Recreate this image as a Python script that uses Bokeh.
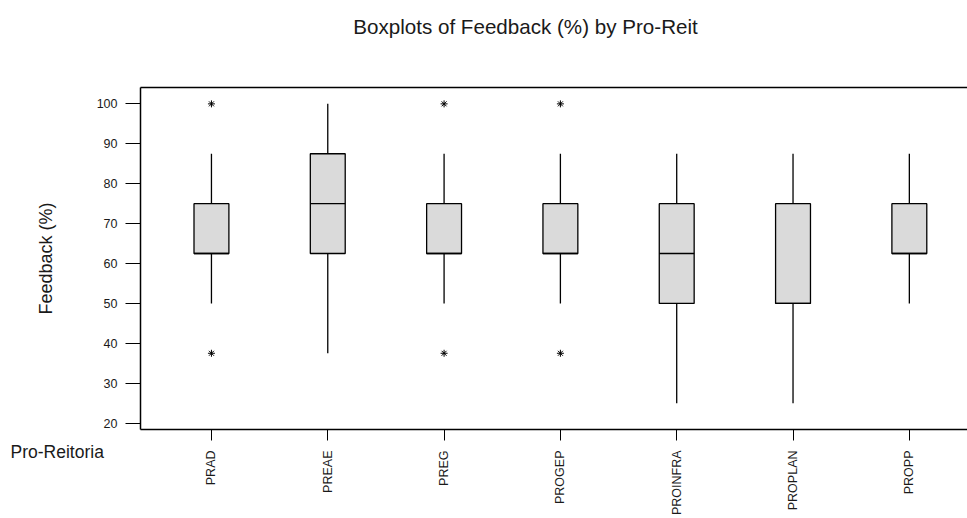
import numpy as np
from bokeh.plotting import figure
from bokeh.models import Range1d, FixedTicker, LinearAxis, Label, ColumnDataSource
from bokeh.embed import file_html
from bokeh.resources import INLINE

# ---- data ----
categories = ["PRAD", "PREAE", "PREG", "PROGEP", "PROINFRA", "PROPLAN", "PROPP"]
q1 = [62.5, 62.5, 62.5, 62.5, 50.0, 50.0, 62.5]
median = [62.5, 75.0, 62.5, 62.5, 62.5, 50.0, 62.5]
q3 = [75.0, 87.5, 75.0, 75.0, 75.0, 75.0, 75.0]
whisker_low = [50.0, 37.5, 50.0, 50.0, 25.0, 25.0, 50.0]
whisker_high = [87.5, 100.0, 87.5, 87.5, 87.5, 87.5, 87.5]
outlier_cat = ["PRAD", "PRAD", "PREG", "PREG", "PROGEP", "PROGEP"]
outlier_val = [100.0, 37.5, 100.0, 37.5, 100.0, 37.5]
y_ticks = [20, 30, 40, 50, 60, 70, 80, 90, 100]

title_text = "Boxplots of Feedback (%) by Pro-Reit"
y_label = "Feedback (%)"
x_label = "Pro-Reitoria"

FONT = "Liberation Sans"
TXT = "#1a1a1a"
BOX_W = 0.3

idx = np.arange(len(categories))
src = ColumnDataSource(dict(
    x=idx, q1=q1, med=median, q3=q3, lo=whisker_low, hi=whisker_high,
    mx0=idx - BOX_W / 2, mx1=idx + BOX_W / 2,
))
out_src = ColumnDataSource(dict(
    x=[categories.index(c) for c in outlier_cat], y=outlier_val,
))

p = figure(width=967, height=518, output_backend="svg", toolbar_location=None,
           x_range=Range1d(-0.61, 6.5), y_range=Range1d(18.4, 104.1),
           min_border_left=140, min_border_right=0, min_border_top=87,
           min_border_bottom=89)
p.outline_line_color = None
p.grid.visible = False

# whiskers
p.segment(x0="x", y0="q3", x1="x", y1="hi", source=src, line_color="black", line_width=1.3)
p.segment(x0="x", y0="lo", x1="x", y1="q1", source=src, line_color="black", line_width=1.3)
# boxes
p.vbar(x="x", width=BOX_W, bottom="q1", top="q3", source=src,
       fill_color="#dadada", line_color="black", line_width=1.3)
# medians
p.segment(x0="mx0", y0="med", x1="mx1", y1="med", source=src, line_color="black", line_width=1.3)
# outliers
p.scatter(x="x", y="y", source=out_src, marker="asterisk", size=7,
          line_color="black", line_width=1.0)

# x axis
xa = p.xaxis[0]
xa.ticker = FixedTicker(ticks=list(idx))
xa.major_label_overrides = {int(i): c for i, c in zip(idx, categories)}
xa.major_label_orientation = np.pi / 2
xa.major_tick_out = 11
xa.major_tick_in = 0
xa.minor_tick_line_color = None
xa.major_label_standoff = 10
xa.axis_label_standoff = 0
xa.major_label_text_font = FONT
xa.major_label_text_font_size = "12.5px"
xa.major_label_text_color = TXT
xa.axis_line_width = 1.5
xa.axis_line_color = "black"
xa.major_tick_line_color = "black"

# y axis
ya = p.yaxis[0]
ya.ticker = FixedTicker(ticks=y_ticks)
ya.major_tick_out = 15
ya.major_tick_in = 0
ya.minor_tick_line_color = None
ya.major_label_standoff = 8
ya.major_label_text_font = FONT
ya.major_label_text_font_size = "12.5px"
ya.major_label_text_color = TXT
ya.axis_label = y_label
ya.axis_label_text_font = FONT
ya.axis_label_text_font_size = "18px"
ya.axis_label_text_font_style = "normal"
ya.axis_label_text_color = TXT
ya.axis_label_standoff = 38
ya.axis_line_width = 1.5
ya.axis_line_color = "black"
ya.major_tick_line_color = "black"

# top frame line
top = LinearAxis(major_tick_line_color=None, minor_tick_line_color=None,
                 major_label_text_font_size="0px", axis_line_width=1.5,
                 axis_line_color="black")
top.ticker = FixedTicker(ticks=[])
p.add_layout(top, "above")

# title and x label (side-panel labels)
p.add_layout(Label(x=385, y=61, x_units="screen", y_units="screen", text=title_text,
                   text_align="center", text_baseline="alphabetic",
                   text_font=FONT, text_font_size="20.6px", text_color=TXT), "above")
p.add_layout(Label(x=-130, y=-387, x_units="screen", y_units="screen", text=x_label,
                   text_align="left", text_baseline="alphabetic",
                   text_font=FONT, text_font_size="17.5px", text_color=TXT), "above")

open("out.html", "w").write(file_html(p, INLINE))
